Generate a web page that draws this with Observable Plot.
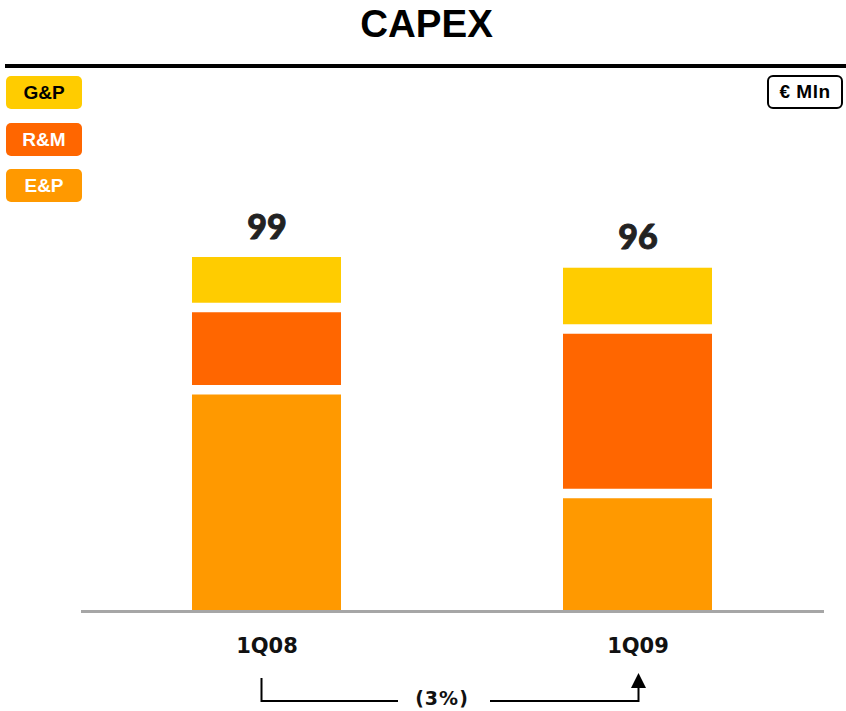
<!DOCTYPE html>
<html><head><meta charset="utf-8">
<script src="https://cdn.jsdelivr.net/npm/d3@7"></script>
<script src="https://cdn.jsdelivr.net/npm/@observablehq/plot@0.6"></script>
<style>
body{margin:0;background:#fff;font-family:"Liberation Sans",Arial,sans-serif;}
#wrap{position:relative;width:846px;height:711px;overflow:hidden;}
#chart{position:absolute;left:0;top:0;}
#title{position:absolute;left:7px;width:839px;top:5px;text-align:center;font-size:38.5px;font-weight:bold;line-height:38px;color:#000;}
#rule{position:absolute;left:5px;right:0;top:64px;height:4px;background:#000;}
.leg{position:absolute;left:6px;width:76px;height:33px;border-radius:5px;display:flex;align-items:center;justify-content:center;font-weight:bold;font-size:19px;}
#unit{position:absolute;left:767px;top:75px;width:72px;height:30px;border:2px solid #000;border-radius:6px;display:flex;align-items:center;justify-content:center;font-weight:bold;font-size:19px;letter-spacing:0.5px;}
</style></head>
<body><div id="wrap"><div id="chart"></div><div id="title"></div><div id="rule"></div><div id="legend"></div><div id="unit"></div></div>
<script>
const titleText = "CAPEX";
const unitText = "€ Mln";
const quarters = ["1Q08", "1Q09"];
const series = ["E&P", "R&M", "G&P"];
const epValues = [62, 33];
const rmValues = [23, 46];
const gpValues = [14, 17];
const totals = [99, 96];
const seriesColors = ["#FF9900", "#FF6600", "#FFCC00"];
const legendOrder = ["G&P", "R&M", "E&P"];
const legendTextColors = {"G&P": "#000", "R&M": "#fff", "E&P": "#fff"};
const changeLabel = "(3%)";

document.getElementById("title").textContent = titleText;
document.getElementById("unit").textContent = unitText;
const legTops = [76, 123, 169];
legendOrder.forEach((s, i) => {
  const d = document.createElement("div");
  d.className = "leg";
  d.style.top = legTops[i] + "px";
  d.style.background = seriesColors[series.indexOf(s)];
  d.style.color = legendTextColors[s];
  d.textContent = s;
  document.getElementById("legend").appendChild(d);
});

const valuesBySeries = [epValues, rmValues, gpValues];
const rows = [];
const bounds = [];
quarters.forEach((q, qi) => {
  let acc = 0;
  series.forEach((s, si) => {
    const v = valuesBySeries[si][qi];
    rows.push({quarter: q, series: s, y1: acc, y2: acc + v});
    acc += v;
    if (si < series.length - 1) bounds.push({quarter: q, y: acc});
  });
});
const totalRows = quarters.map((q, i) => ({quarter: q, total: totals[i]}));

const plot = Plot.plot({
  width: 846, height: 711,
  marginLeft: 81, marginRight: 22, marginTop: 257, marginBottom: 100,
  x: {domain: quarters, paddingInner: 0.598, paddingOuter: 0.299, label: null},
  y: {domain: [0, 99], axis: null},
  color: {domain: series, range: seriesColors},
  marks: [
    Plot.barY(rows, {x: "quarter", y1: "y1", y2: "y2", fill: "series"}),
    Plot.tickY(bounds, {x: "quarter", y: "y", stroke: "white", strokeWidth: 9.5}),
    Plot.ruleY([0], {stroke: "#a6a6a6", strokeWidth: 3}),
    Plot.text(totalRows, {x: "quarter", y: "total", text: d => String(d.total), dy: -19, lineAnchor: "bottom",
      fontSize: 34, fontWeight: 900, fontFamily: "Lato", fill: "#222", stroke: "#222", strokeWidth: 0.9}),
    Plot.axisX({tickSize: 0, tickPadding: 27, fontSize: 21, fontWeight: "bold", fontFamily: "DejaVu Sans", fill: "#111", label: null})
  ]
});
document.getElementById("chart").appendChild(plot);

const xs = plot.scale("x");
const cx = q => xs.apply(q) + xs.bandwidth / 2;
const svg = d3.select(plot);
const xa = cx(quarters[0]) - 5, xb = cx(quarters[1]) + 1;
const yLine = 701, yStart = 678, yTip = 673, yBase = 688;
const textX = 442;
const g = svg.append("g");
g.append("path").attr("d", `M${xa},${yStart}V${yLine}H${textX - 44}`).attr("fill", "none").attr("stroke", "#000").attr("stroke-width", 2);
g.append("path").attr("d", `M${textX + 48},${yLine}H${xb}V${yBase}`).attr("fill", "none").attr("stroke", "#000").attr("stroke-width", 2);
g.append("path").attr("d", `M${xb},${yTip}L${xb - 7.5},${yBase}H${xb + 7.5}Z`).attr("fill", "#000");
g.append("text").attr("x", textX).attr("y", 705).attr("text-anchor", "middle")
  .attr("font-family", "DejaVu Sans").attr("font-weight", "bold").attr("font-size", 19).attr("letter-spacing", 1).attr("fill", "#111")
  .text(changeLabel);
</script></body></html>
